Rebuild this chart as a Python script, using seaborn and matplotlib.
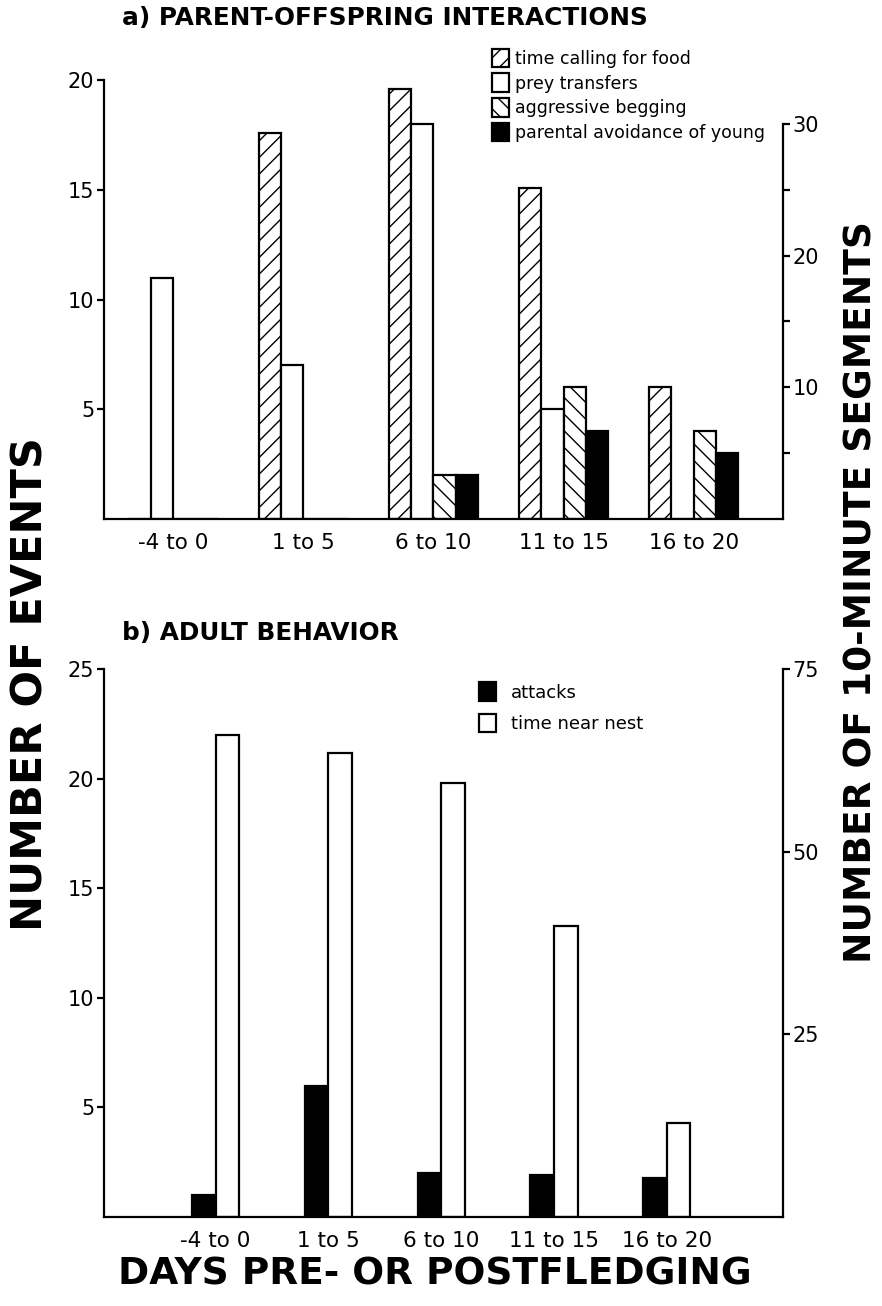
import numpy as np
import pandas as pd
import matplotlib
matplotlib.use("Agg")
import matplotlib.pyplot as plt
import matplotlib.patches as mpatches
import seaborn as sns

# Data (left-axis units, number of events)
periods = ['-4 to 0', '1 to 5', '6 to 10', '11 to 15', '16 to 20']

# a) parent-offspring interactions
calling = [0, 17.6, 19.6, 15.1, 6.0]
prey = [11.0, 7.0, 18.0, 5.0, 0]
begging = [0, 0, 2.0, 6.0, 4.0]
avoidance = [0, 0, 2.0, 4.0, 3.0]
series_a = ['time calling for food', 'prey transfers', 'aggressive begging',
            'parental avoidance of young']

# b) adult behavior
attacks = [1.0, 6.0, 2.0, 1.9, 1.8]
near_nest = [22.0, 21.15, 19.8, 13.3, 4.3]
series_b = ['attacks', 'time near nest']

df_a = pd.DataFrame({
    'period': periods * 4,
    'series': np.repeat(series_a, 5),
    'value': calling + prey + begging + avoidance,
})
df_b = pd.DataFrame({
    'period': periods * 2,
    'series': np.repeat(series_b, 5),
    'value': attacks + near_nest,
})

sns.set_style('white')
plt.rcParams['font.family'] = ['DejaVu Sans']
plt.rcParams.update({'text.color': 'black', 'axes.edgecolor': 'black',
                     'xtick.color': 'black', 'ytick.color': 'black',
                     'axes.labelcolor': 'black', 'hatch.linewidth': 1.0})

fig = plt.figure(figsize=(8.82, 13.06), dpi=100)
ax1 = fig.add_axes([0.1179, 0.6026, 0.7698, 0.3361])
ax2 = fig.add_axes([0.1179, 0.0681, 0.7698, 0.4196])

lw = 1.6

# ---- panel a
sns.barplot(data=df_a, x='period', y='value', hue='series', hue_order=series_a,
            palette=['white', 'white', 'white', 'black'], edgecolor='black',
            linewidth=lw, width=0.685, legend=False, ax=ax1)
hatches_a = ['//', '', '\\\\', '']
for cont, h in zip(ax1.containers, hatches_a):
    for bar in cont:
        bar.set_hatch(h)
ax1.set_xlim(-0.53, 4.685)
ax1.set_ylim(0, 20)
ax1.set_yticks([5, 10, 15, 20])

r1 = ax1.twinx()
r1.set_ylim(0, 20 * 5 / 3)
r1.set_yticks([10, 20, 30])
r1.set_yticks([5, 15, 25], minor=True)

# ---- panel b
sns.barplot(data=df_b, x='period', y='value', hue='series', hue_order=series_b,
            palette=['black', 'white'], edgecolor='black',
            linewidth=lw, width=0.42, legend=False, ax=ax2)
ax2.set_xlim(-0.99, 5.03)
ax2.set_ylim(0, 25)
ax2.set_yticks([5, 10, 15, 20, 25])

r2 = ax2.twinx()
r2.set_ylim(0, 75)
r2.set_yticks([25, 50, 75])

for ax, r, top, rtop in [(ax1, r1, 20, 30), (ax2, r2, 25, 75)]:
    for a in (ax, r):
        a.spines['top'].set_visible(False)
        for s in a.spines.values():
            s.set_linewidth(lw)
            s.set_color('black')
    ax.spines['right'].set_visible(False)
    r.spines['left'].set_visible(False)
    r.spines['bottom'].set_visible(False)
    ax.spines['left'].set_bounds(0, top)
    r.spines['right'].set_bounds(0, rtop)
    ax.set_xlabel('')
    ax.set_ylabel('')
    ax.tick_params(axis='x', length=0, pad=10, labelsize=15.5)
    ax.tick_params(axis='y', direction='out', length=5, width=lw, pad=2,
                   labelsize=15, left=True)
    r.tick_params(axis='y', which='both', direction='out', length=5, width=lw,
                  pad=2, labelsize=15, right=True)

# legends
h_a = [mpatches.Patch(facecolor=fc, edgecolor='black', hatch=h, linewidth=lw, label=l)
       for fc, h, l in zip(['white', 'white', 'white', 'black'], hatches_a, series_a)]
fig.legend(handles=h_a, loc='upper left', bbox_to_anchor=(0.55, 0.968),
           frameon=False, fontsize=12.5, handlelength=0.95, handleheight=1.25,
           handletextpad=0.4, labelspacing=0.33, borderaxespad=0)
h_b = [mpatches.Patch(facecolor=fc, edgecolor='black', linewidth=lw, label=l)
       for fc, l in zip(['black', 'white'], series_b)]
fig.legend(handles=h_b, loc='upper left', bbox_to_anchor=(0.535, 0.483),
           frameon=False, fontsize=13, handlelength=0.95, handleheight=1.2,
           handletextpad=0.8, labelspacing=0.65, borderaxespad=0)

# titles and axis labels
fig.text(0.138, 0.986, 'a) PARENT-OFFSPRING INTERACTIONS', fontsize=17.8,
         weight='bold', va='center', ha='left')
fig.text(0.138, 0.515, 'b) ADULT BEHAVIOR', fontsize=17.8,
         weight='bold', va='center', ha='left')
fig.text(0.035, 0.476, 'NUMBER OF EVENTS', rotation=90, fontsize=31,
         weight='bold', va='center', ha='center')
fig.text(0.977, 0.547, 'NUMBER OF 10-MINUTE SEGMENTS', rotation=90, fontsize=27,
         weight='bold', va='center', ha='center')
fig.text(0.493, 0.024, 'DAYS PRE- OR POSTFLEDGING', fontsize=27,
         weight='bold', va='center', ha='center')

fig.savefig('out.png', dpi=100)
